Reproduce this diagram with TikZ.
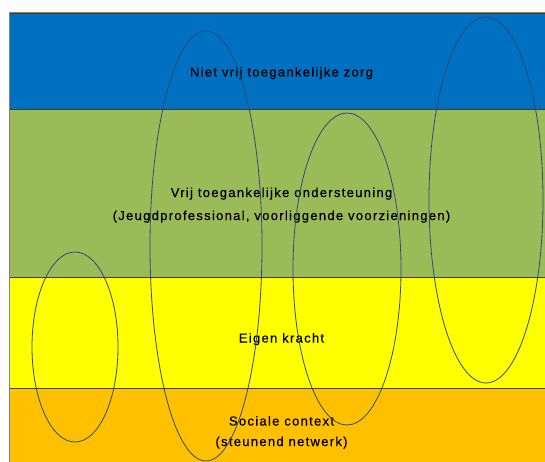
\documentclass[tikz,border=0pt]{standalone}
\usepackage{fontspec}
\setmainfont{Liberation Sans}[LetterSpace=10, FakeBold=0.6]
\definecolor{zorgblue}{HTML}{0070C0}
\definecolor{steungreen}{HTML}{9BBB59}
\definecolor{krachtyellow}{HTML}{FFFF00}
\definecolor{contextorange}{HTML}{FFC000}
\definecolor{bandedge}{HTML}{404020}
\definecolor{ringedge}{HTML}{2F4B7A}
\tikzset{
  band/.style={draw=bandedge, line width=0.9pt},
  ring/.style={draw=ringedge, line width=0.8pt},
  bandlabel/.style={font=\fontsize{13}{15}\selectfont, anchor=base, inner sep=0pt}
}
\begin{document}
\begin{tikzpicture}[x=1pt,y=-1pt]
  \useasboundingbox (0,0) rectangle (545,462);
  \fill[white] (0,0) rectangle (545,462);
  \clip (0,0) rectangle (545,462);

  % layers
  \draw[band, fill=zorgblue] (9,13) rectangle (550,109);
  \draw[band, fill=steungreen] (9,109) rectangle (550,277);
  \draw[band, fill=krachtyellow] (9,277) rectangle (550,388);
  \draw[band, fill=contextorange] (9,388) rectangle (550,470);
  \draw[draw=gray, line width=1pt] (9,13) -- (545,13);
  \draw[draw=gray, line width=1pt] (9,13) -- (9,462);

  \node[bandlabel] (zorg) at (281.5,76.5) {Niet vrij toegankelijke zorg};
  \node[bandlabel] (steun) at (281.5,197) {Vrij toegankelijke ondersteuning};
  \node[bandlabel] (steunsub) at (281.5,220) {(Jeugdprofessional, voorliggende voorzieningen)};
  \node[bandlabel] (kracht) at (281.5,342.5) {Eigen kracht};
  \node[bandlabel] (context) at (281.5,425.5) {Sociale context};
  \node[bandlabel] (contextsub) at (281.5,446) {(steunend netwerk)};

  % ellipses
  \draw[ring] (75,347) ellipse [x radius=43, y radius=95];
  \draw[ring] (206,246) ellipse [x radius=56, y radius=215];
  \draw[ring] (347,269) ellipse [x radius=54, y radius=156];
  \draw[ring] (486,200) ellipse [x radius=57, y radius=183];
\end{tikzpicture}
\end{document}
